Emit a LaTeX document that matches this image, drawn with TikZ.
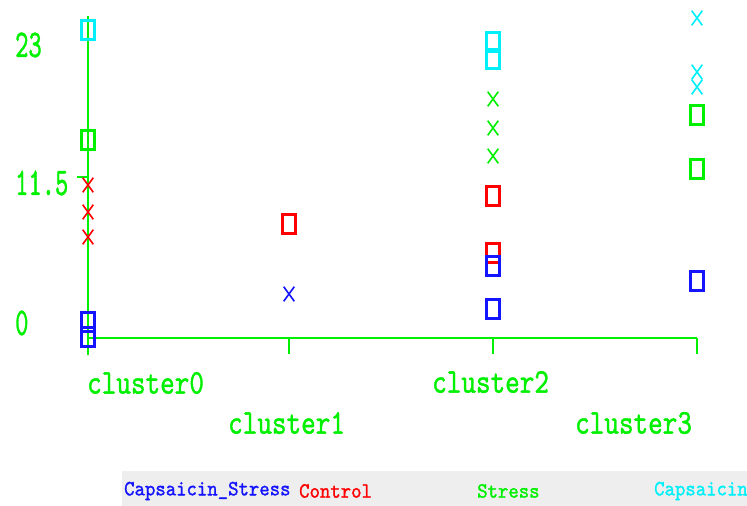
\documentclass[tikz,border=0pt]{standalone}
\usepackage{fontspec}
\newfontfamily\mytt{lmmono10-regular.otf}[FakeBold=1.3]
\usetikzlibrary{shapes.misc}
\definecolor{grn}{RGB}{0,240,0}
\definecolor{cyn}{RGB}{0,240,250}
\definecolor{rd}{RGB}{255,0,0}
\definecolor{bl}{RGB}{20,20,255}
\definecolor{legbg}{RGB}{238,238,238}
\newcommand\talltext[2]{\scalebox{1}[#1]{#2}}
\begin{document}
\begin{tikzpicture}[x=1pt,y=-1pt,
  sq/.style={draw, line width=2.3pt, rectangle, minimum width=13pt, minimum height=19pt, inner sep=0pt},
  xm/.style={cross out, draw, line width=1.6pt, minimum width=9pt, minimum height=13pt, inner sep=0pt},
  axisline/.style={draw=grn, line width=2pt},
  ylab/.style={text=grn, anchor=west, inner sep=0pt, font=\mytt\fontsize{25.3}{25}\selectfont},
  clab/.style={text=grn, anchor=west, inner sep=0pt, font=\mytt\fontsize{27.8}{28}\selectfont},
  leg/.style={anchor=west, inner sep=0pt, font=\mytt\fontsize{19.8}{20}\selectfont}
]
\useasboundingbox (0,0) rectangle (747,506);
\fill[white] (0,0) rectangle (747,506);
% legend band
\fill[legbg] (122,471) rectangle (747,506);
% axes
\coordinate (ytop) at (88,16);
\coordinate (ybot) at (88,355);
\coordinate (org) at (88,338);
\coordinate (xend) at (697,338);
\coordinate (t1a) at (289,338); \coordinate (t1b) at (289,354);
\coordinate (t2a) at (493,338); \coordinate (t2b) at (493,354);
\coordinate (t3a) at (697,338); \coordinate (t3b) at (697,354);
\coordinate (ytka) at (77,177); \coordinate (ytkb) at (88,177);
\draw[axisline] (ytop) -- (ybot);
\draw[axisline] (org) -- (xend);
\draw[axisline] (t1a) -- (t1b);
\draw[axisline] (t2a) -- (t2b);
\draw[axisline] (t3a) -- (t3b);
\draw[draw=grn, line width=1.4pt] (ytka) -- (ytkb);
% y labels
\node[ylab] (y23) at (15,45) {\talltext{1.55}{23}};
\node[ylab] (y115) at (15,183) {\talltext{1.55}{11.5}};
\node[ylab] (y0) at (15,323) {\talltext{1.55}{0}};
% cluster labels
\node[clab] (c0) at (87,383) {\talltext{1.25}{cluster0}};
\node[clab] (c1) at (228,423) {\talltext{1.25}{cluster1}};
\node[clab] (c2) at (432,382) {\talltext{1.25}{cluster2}};
\node[clab] (c3) at (575,423) {\talltext{1.25}{cluster3}};
% cluster0
\node[sq, draw=cyn] (a1) at (88,30) {};
\node[sq, draw=grn] (a2) at (88,140) {};
\node[xm, draw=rd] (a3) at (88,185) {};
\node[xm, draw=rd] (a4) at (88,212) {};
\node[xm, draw=rd] (a5) at (88,237) {};
\node[sq, draw=bl] (a6) at (88,322) {};
\node[sq, draw=bl] (a7) at (88,337) {};
% cluster1
\node[sq, draw=rd] (b1) at (289,224) {};
\node[xm, draw=bl] (b2) at (289,294) {};
% cluster2
\node[sq, draw=cyn] (d1) at (493,42) {};
\node[sq, draw=cyn] (d2) at (493,59) {};
\node[xm, draw=grn] (d3) at (493,99) {};
\node[xm, draw=grn] (d4) at (493,128) {};
\node[xm, draw=grn] (d5) at (493,156) {};
\node[sq, draw=rd] (d6) at (493,196) {};
\node[sq, draw=rd] (d7) at (493,253) {};
\node[sq, draw=bl] (d8) at (493,266) {};
\node[sq, draw=bl] (d9) at (493,309) {};
% cluster3
\node[xm, draw=cyn] (e1) at (697,18) {};
\node[xm, draw=cyn] (e2) at (697,72) {};
\node[xm, draw=cyn] (e3) at (697,87) {};
\node[sq, draw=grn] (e4) at (697,115) {};
\node[sq, draw=grn] (e5) at (697,169) {};
\node[sq, draw=bl] (e6) at (697,281) {};
% legend
\begin{scope}
\clip (122,471) rectangle (747,506);
\node[leg, text=bl] (l1) at (124,491) {\talltext{1.1}{Capsaicin\_Stress}};
\node[leg, text=rd] (l2) at (299,491) {\talltext{1.1}{Control}};
\node[leg, text=grn] (l3) at (477,491) {\talltext{1.1}{Stress}};
\node[leg, text=cyn] (l4) at (654,491) {\talltext{1.1}{Capsaicin}};
\end{scope}
\end{tikzpicture}
\end{document}
